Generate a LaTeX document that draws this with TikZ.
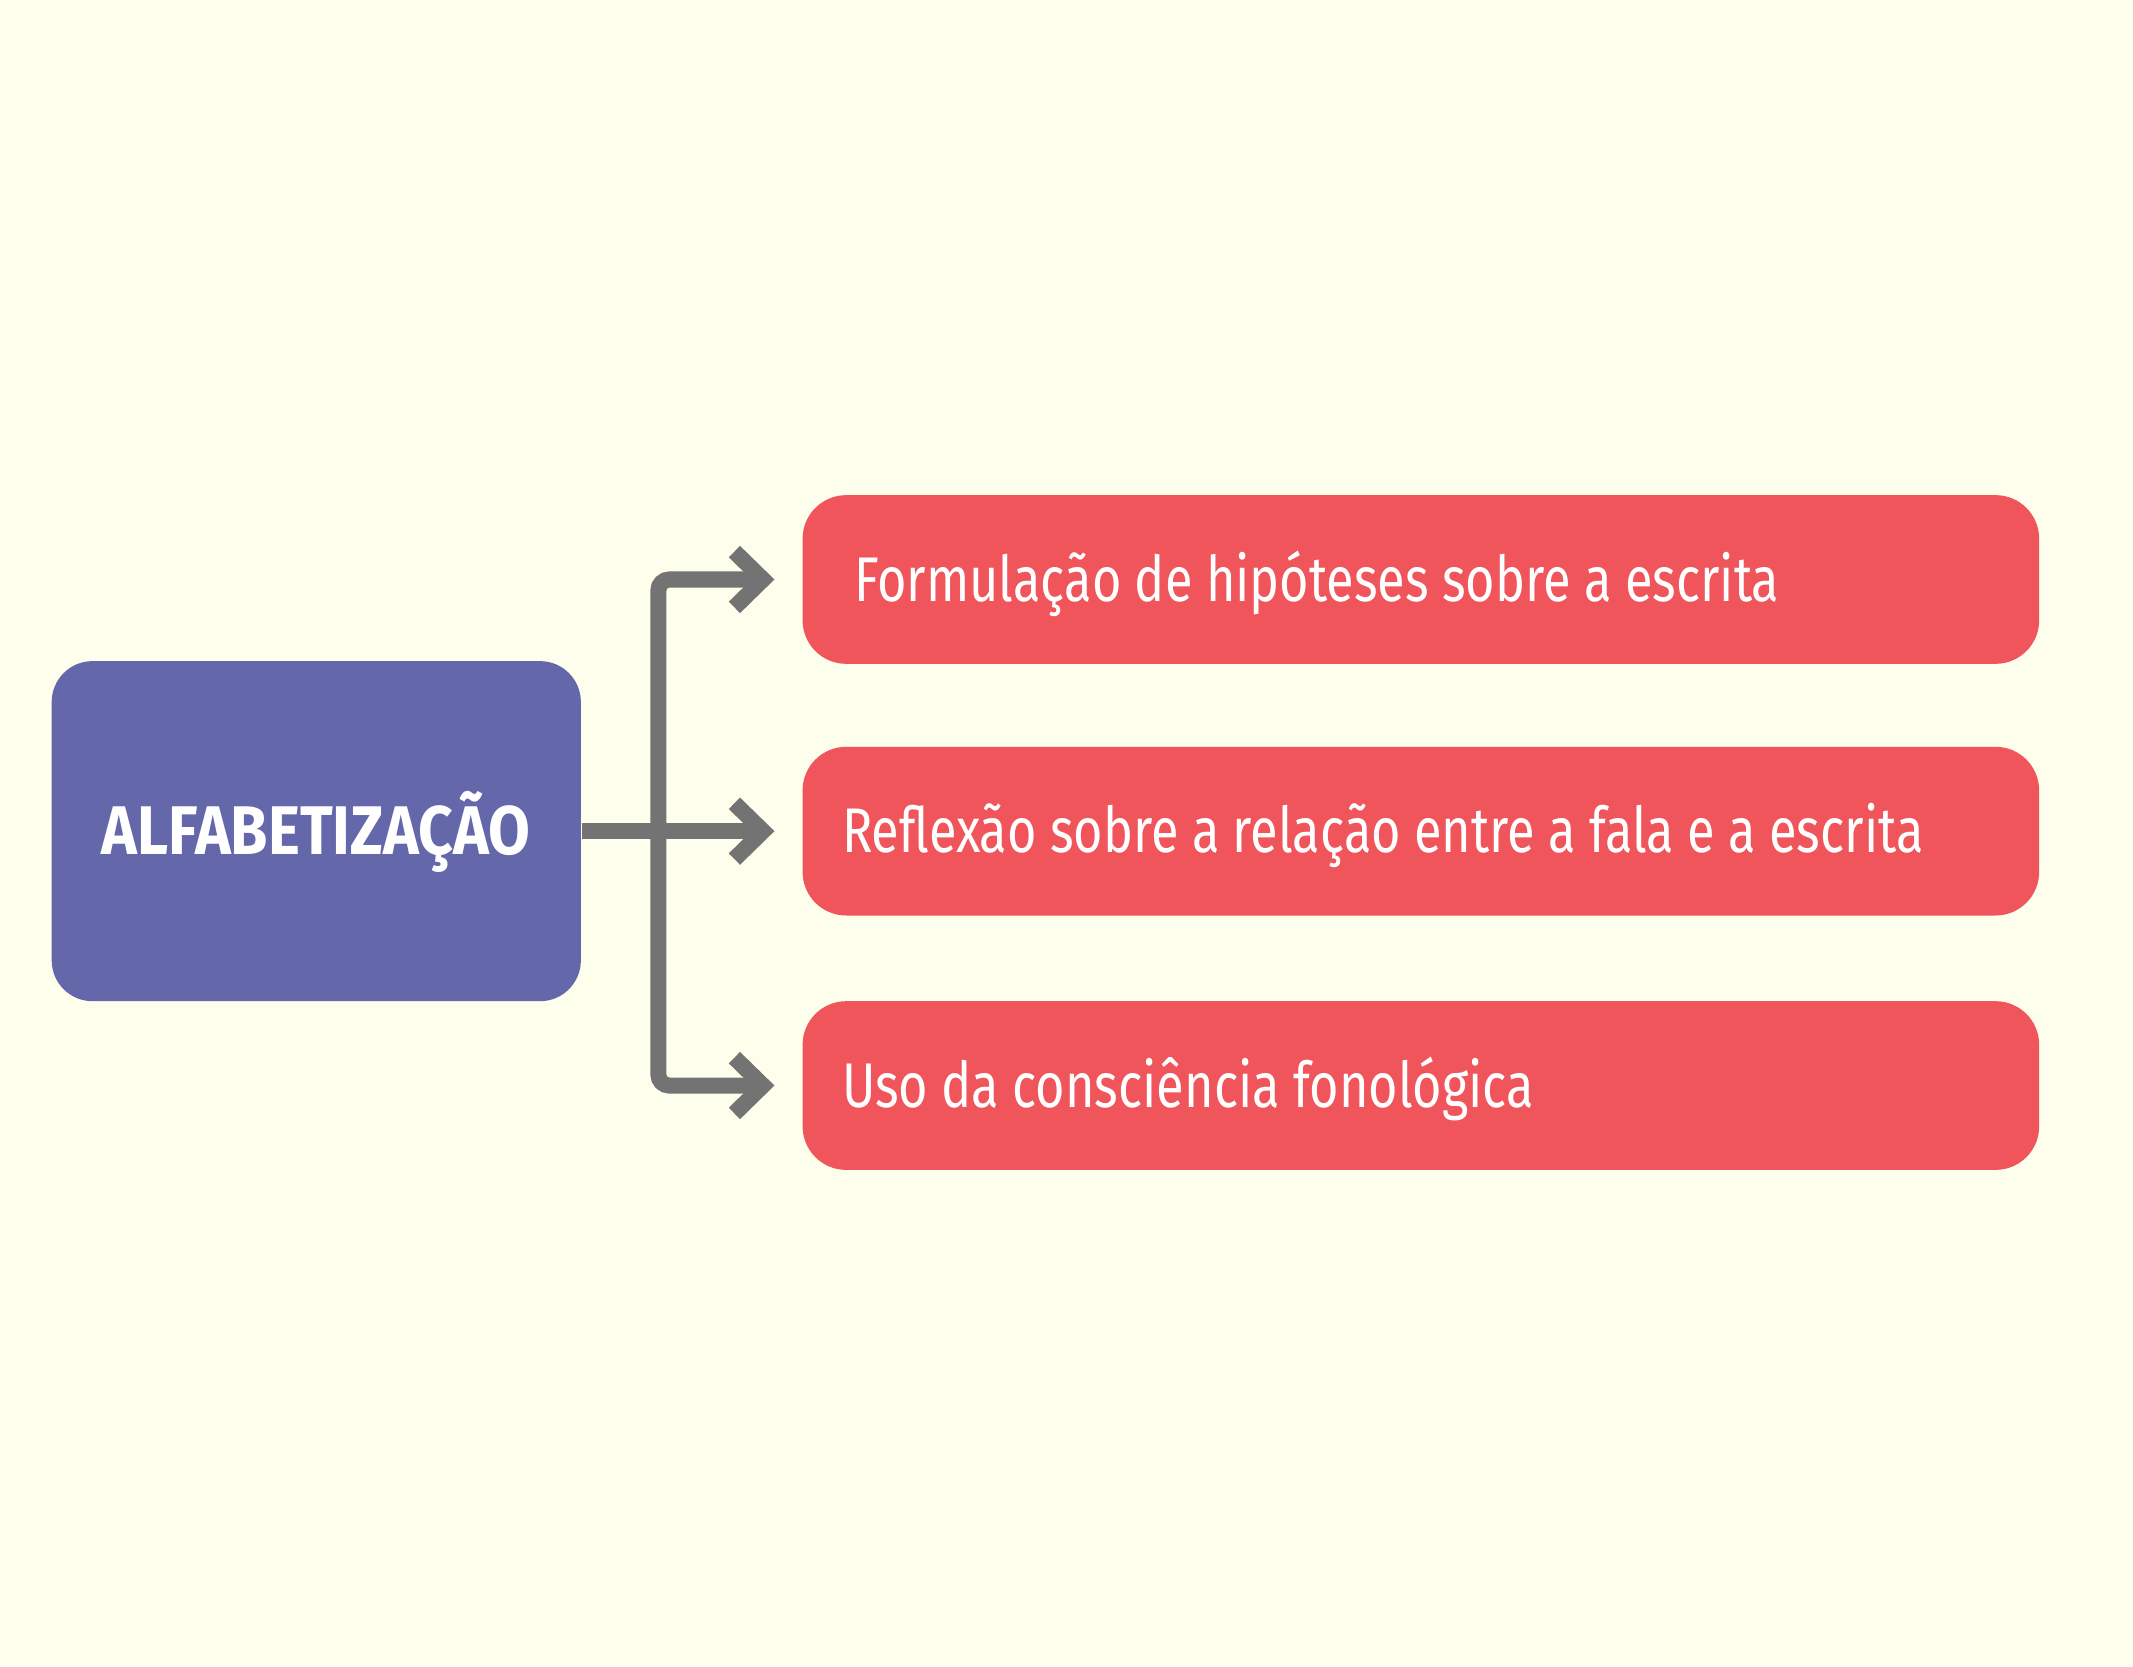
\documentclass[tikz,border=0pt]{standalone}
\usepackage{fontspec}
\setmainfont[FakeStretch=0.8]{Fira Sans}
\newfontfamily\titlefont[FakeStretch=0.88]{Fira Sans}
\usetikzlibrary{arrows.meta}
\definecolor{bgcream}{HTML}{FDFEEC}
\definecolor{topicblue}{HTML}{6467A9}
\definecolor{itemred}{HTML}{EF555A}
\definecolor{linegray}{HTML}{737373}
\begin{document}
\begin{tikzpicture}[
      topic/.style={fill=topicblue, rounded corners=0.3cm, minimum width=3.89cm, minimum height=2.5cm, text=white, font=\titlefont\bfseries\fontsize{14.4}{16}\selectfont, text height=0.35cm, text depth=0pt},
      item/.style={fill=itemred, rounded corners=0.32cm, minimum height=1.24cm, inner xsep=0.29cm, text width=8.51cm, text=white, font=\fontsize{13.2}{15}\selectfont, text height=0.32cm, text depth=0pt, execute at begin node={\spaceskip=2.8pt\relax}},
      link/.style={draw=linegray, line width=3.35pt, rounded corners=0.08cm, shorten >=2mm, -{Straight Barb[length=2.1mm, width=4.1mm, line width=0pt 1, sharp]}}]
            \fill[bgcream] (0, 0) rectangle (15.68, -12.25);
            \node[topic] (title) at (2.325, -6.11) {ALFABETIZAÇÃO};
            \node[item] (f1) at (10.445, -4.26) {\hspace*{0.09cm}Formulação de hipóteses sobre a escrita};
            \node[item] (f2) at (10.445, -6.11) {Reflexão sobre a relação entre a fala e a escrita};
            \node[item] (f3) at (10.445, -7.98) {Uso da consciência fonológica};
            \coordinate (bus) at (4.84, -6.11);
            \draw[link] (title) -- (f2);
            \draw[link] (bus) |- (f1);
            \draw[link] (bus) |- (f3);
\end{tikzpicture}
\end{document}
